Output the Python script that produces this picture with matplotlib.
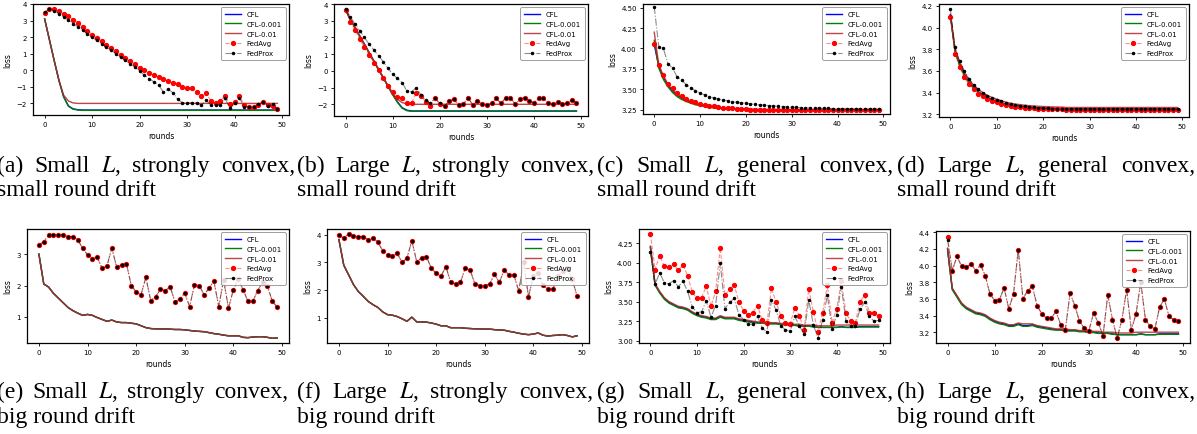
import matplotlib
matplotlib.use("Agg")
import matplotlib.pyplot as plt
from matplotlib.ticker import MultipleLocator

plt.rcParams['font.family'] = 'DejaVu Sans'
plt.rcParams['mathtext.fontset'] = 'stix'

# ------------------------------------------------------------
# loss curves, 50 rounds each
# ------------------------------------------------------------
rounds = list(range(50))

# --- (a) small L, strongly convex, small drift ---
cfl_a = [3.1, 1.85, 0.6, -0.6, -1.6, -2.15, -2.33, -2.38] + [-2.4] * 42
cfl001_a = [3.1, 1.85, 0.6, -0.6, -1.6, -2.17, -2.35, -2.4] + [-2.42] * 42
cfl01_a = [3.1, 1.85, 0.6, -0.6, -1.5, -1.85, -1.97] + [-2.0] * 43
fedavg_a = [3.45, 3.7, 3.7, 3.55, 3.4, 3.25, 3.05, 2.85, 2.6, 2.4,
            2.15, 1.95, 1.75, 1.55, 1.35, 1.15, 0.95, 0.75, 0.55, 0.35,
            0.15, 0.0, -0.15, -0.3, -0.4, -0.55, -0.65, -0.75, -0.85, -1.0,
            -1.05, -1.1, -1.3, -1.58, -1.38, -1.84, -1.98, -1.84, -1.54, -2.04,
            -1.9, -1.54, -2.1, -2.2, -2.2, -2.1, -1.9, -2.1, -2.18, -2.35]
fedprox_a = [3.5, 3.7, 3.6, 3.42, 3.22, 3.02, 2.82, 2.62, 2.42, 2.2,
             2.0, 1.8, 1.6, 1.4, 1.2, 1.0, 0.8, 0.6, 0.4, 0.2,
             -0.05, -0.3, -0.5, -0.7, -0.9, -1.3, -1.15, -1.35, -1.75, -1.95,
             -2.0, -1.95, -2.0, -2.1, -1.8, -2.1, -2.1, -2.1, -1.7, -2.3,
             -2.0, -1.65, -2.2, -2.2, -2.2, -2.05, -1.9, -2.15, -2.05, -2.35]

# --- (b) large L, strongly convex, small drift ---
cfl_b = [3.65, 3.1, 2.6, 2.1, 1.6, 1.1, 0.6, 0.1, -0.4, -0.9,
         -1.4, -1.85, -2.2, -2.35] + [-2.4] * 36
cfl001_b = [3.65, 3.08, 2.57, 2.07, 1.57, 1.07, 0.57, 0.07, -0.43, -0.93,
            -1.43, -1.88, -2.23, -2.38] + [-2.42] * 36
cfl01_b = [3.65, 3.1, 2.6, 2.1, 1.6, 1.1, 0.6, 0.1, -0.4, -0.88,
           -1.35, -1.7, -1.9, -1.97] + [-2.0] * 36
fedavg_b = [3.65, 2.95, 2.45, 1.9, 1.4, 0.95, 0.5, 0.05, -0.45, -0.9,
            -1.25, -1.55, -1.65, -1.9, -1.9, -1.35, -1.5, -1.85, -2.1, -1.6,
            -2.0, -2.1, -1.8, -1.7, -2.05, -2.0, -1.6, -2.05, -1.8, -2.0,
            -2.05, -1.95, -1.65, -1.95, -1.6, -1.6, -2.0, -1.7, -1.6, -1.8,
            -1.9, -1.65, -1.65, -1.95, -2.0, -1.85, -2.0, -1.95, -1.75, -1.9]
fedprox_b = [3.7, 3.25, 2.8, 2.4, 2.0, 1.6, 1.25, 0.9, 0.55, 0.15,
             -0.2, -0.45, -0.7, -1.2, -1.25, -1.0, -1.45, -1.75, -1.95, -1.6,
             -1.95, -2.12, -1.8, -1.7, -2.05, -2.0, -1.6, -2.05, -1.8, -2.0,
             -2.05, -1.95, -1.65, -1.95, -1.6, -1.6, -2.0, -1.7, -1.6, -1.8,
             -1.9, -1.65, -1.65, -1.95, -2.0, -1.85, -2.0, -1.95, -1.75, -1.9]

# --- (c) small L, general convex, small drift ---
cfl_c = [4.05, 3.78, 3.65, 3.55, 3.48, 3.43, 3.39, 3.36, 3.34, 3.32,
         3.305, 3.295, 3.285, 3.278, 3.272, 3.267, 3.263, 3.26, 3.258, 3.256,
         3.254, 3.253, 3.252, 3.251, 3.25, 3.25, 3.249, 3.249, 3.248, 3.248] + [3.247] * 20
cfl001_c = [4.1, 3.76, 3.62, 3.53, 3.46, 3.41, 3.375, 3.35, 3.33, 3.31,
            3.3, 3.29, 3.28, 3.273, 3.267, 3.263, 3.26, 3.257, 3.255, 3.253,
            3.252, 3.251, 3.25, 3.249, 3.248] + [3.246] * 25
cfl01_c = [4.2, 3.8, 3.66, 3.56, 3.49, 3.44, 3.4, 3.37, 3.345, 3.325,
           3.31, 3.298, 3.288, 3.28, 3.274, 3.269, 3.265, 3.262, 3.26, 3.258,
           3.256, 3.255, 3.254, 3.253, 3.252] + [3.25] * 25
fedavg_c = [4.06, 3.8, 3.67, 3.57, 3.51, 3.46, 3.42, 3.38, 3.36, 3.34,
            3.32, 3.31, 3.30, 3.29, 3.28, 3.275, 3.27, 3.265, 3.26, 3.257,
            3.254, 3.252, 3.25, 3.248, 3.247, 3.246, 3.245, 3.244, 3.243, 3.242] + [3.24] * 20
fedprox_c = [4.51, 4.02, 4.0, 3.81, 3.76, 3.65, 3.61, 3.555, 3.52, 3.48,
             3.455, 3.43, 3.41, 3.395, 3.38, 3.37, 3.36, 3.35, 3.34, 3.335,
             3.33, 3.32, 3.315, 3.31, 3.305, 3.30, 3.295, 3.29, 3.287, 3.284,
             3.28, 3.278, 3.276, 3.274, 3.272, 3.27, 3.268, 3.266, 3.265, 3.264,
             3.263, 3.262, 3.261, 3.26, 3.259, 3.258, 3.258, 3.257, 3.257, 3.256]

# --- (d) large L, general convex, small drift ---
cfl_d = [4.12, 3.79, 3.66, 3.57, 3.5, 3.45, 3.41, 3.38, 3.355, 3.335,
         3.32, 3.305, 3.295, 3.287, 3.28, 3.275, 3.27, 3.266, 3.263, 3.26,
         3.258, 3.256, 3.255, 3.254, 3.253] + [3.252] * 25
cfl001_d = [4.11, 3.78, 3.65, 3.56, 3.49, 3.44, 3.405, 3.375, 3.35, 3.33,
            3.315, 3.3, 3.29, 3.283, 3.277, 3.272, 3.267, 3.263, 3.26, 3.258,
            3.256, 3.254, 3.253, 3.252, 3.251] + [3.25] * 25
cfl01_d = [4.12, 3.8, 3.68, 3.59, 3.52, 3.47, 3.43, 3.40, 3.375, 3.355,
           3.34, 3.325, 3.312, 3.302, 3.295, 3.289, 3.284, 3.28, 3.277, 3.274,
           3.272, 3.27, 3.268, 3.267, 3.266] + [3.263] * 25
fedavg_d = [4.10, 3.76, 3.635, 3.54, 3.475, 3.43, 3.39, 3.365, 3.345, 3.325,
            3.31, 3.295, 3.285, 3.277, 3.271, 3.266, 3.262, 3.258, 3.255, 3.252,
            3.25, 3.248, 3.247, 3.246, 3.245] + [3.24] * 25
fedprox_d = [4.17, 3.82, 3.69, 3.6, 3.53, 3.47, 3.43, 3.40, 3.37, 3.35,
             3.335, 3.32, 3.305, 3.295, 3.288, 3.28, 3.275, 3.27, 3.265, 3.26,
             3.257, 3.255, 3.253, 3.251, 3.25] + [3.247] * 25

# --- (e) small L, strongly convex, big drift ---
cfl_e = [3.0, 2.05, 1.95, 1.75, 1.6, 1.45, 1.3, 1.2, 1.12, 1.05,
         1.08, 1.05, 0.98, 0.92, 0.86, 0.9, 0.84, 0.82, 0.82, 0.8,
         0.78, 0.72, 0.66, 0.63, 0.62, 0.62, 0.62, 0.61, 0.6, 0.6,
         0.59, 0.57, 0.55, 0.54, 0.53, 0.5, 0.47, 0.45, 0.42, 0.4,
         0.4, 0.4, 0.35, 0.34, 0.36, 0.37, 0.37, 0.35, 0.32, 0.33]
cfl001_e = cfl_e
cfl01_e = cfl_e
fedavg_e = [3.28, 3.4, 3.6, 3.62, 3.62, 3.62, 3.56, 3.56, 3.46, 3.18,
            2.98, 2.86, 2.9, 2.55, 2.62, 3.2, 2.58, 2.66, 2.7, 2.0,
            1.8, 1.7, 2.26, 1.52, 1.64, 1.88, 1.84, 1.96, 1.48, 1.58,
            1.76, 1.33, 2.02, 2.0, 1.7, 1.92, 2.14, 1.33, 2.18, 1.28,
            1.86, 2.2, 1.87, 1.5, 1.5, 1.84, 2.1, 2.0, 1.5, 1.32]
fedprox_e = fedavg_e

# --- (f) large L, strongly convex, big drift ---
cfl_f = [3.82, 2.9, 2.55, 2.2, 1.95, 1.78, 1.6, 1.48, 1.38, 1.22,
         1.12, 1.1, 1.05, 0.97, 0.88, 1.03, 0.86, 0.86, 0.85, 0.82,
         0.78, 0.72, 0.72, 0.65, 0.65, 0.65, 0.63, 0.62, 0.61, 0.61,
         0.6, 0.6, 0.58, 0.57, 0.56, 0.52, 0.49, 0.45, 0.42, 0.4,
         0.42, 0.46, 0.38, 0.35, 0.37, 0.38, 0.4, 0.37, 0.32, 0.36]
cfl001_f = cfl_f
cfl01_f = cfl_f
fedavg_f = [3.97, 3.88, 4.02, 3.95, 3.93, 3.93, 3.82, 3.87, 3.73, 3.42,
            3.27, 3.22, 3.32, 3.0, 3.15, 3.78, 3.03, 3.16, 3.2, 2.8,
            2.6, 2.5, 2.85, 2.28, 2.22, 2.28, 2.8, 2.72, 2.22, 2.16,
            2.16, 2.22, 2.57, 2.28, 2.72, 2.55, 2.55, 1.97, 3.0, 1.77,
            2.5, 2.6, 2.17, 2.03, 2.03, 2.5, 2.7, 2.8, 2.4, 1.78]
fedprox_f = fedavg_f

# --- (g) small L, general convex, big drift ---
cfl_g = [4.2, 3.72, 3.62, 3.54, 3.49, 3.46, 3.43, 3.42, 3.4, 3.36,
         3.33, 3.31, 3.3, 3.28, 3.28, 3.31, 3.29, 3.29, 3.29, 3.27,
         3.26, 3.25, 3.24, 3.23, 3.23, 3.22, 3.22, 3.22, 3.21, 3.21,
         3.2, 3.2, 3.19, 3.19, 3.19, 3.18, 3.17, 3.17, 3.17, 3.17,
         3.17, 3.18, 3.17, 3.17, 3.17, 3.18, 3.18, 3.18, 3.18, 3.18]
cfl001_g = [4.19, 3.71, 3.61, 3.53, 3.48, 3.45, 3.42, 3.41, 3.39, 3.35,
            3.32, 3.3, 3.29, 3.27, 3.27, 3.3, 3.28, 3.28, 3.28, 3.26,
            3.25, 3.24, 3.23, 3.225, 3.225, 3.215, 3.215, 3.215, 3.205, 3.205,
            3.195, 3.195, 3.185, 3.185, 3.185, 3.175, 3.17, 3.17, 3.17, 3.17,
            3.17, 3.175, 3.17, 3.17, 3.17, 3.175, 3.175, 3.175, 3.175, 3.175]
cfl01_g = [4.21, 3.73, 3.63, 3.55, 3.5, 3.47, 3.44, 3.43, 3.41, 3.37,
           3.34, 3.32, 3.31, 3.29, 3.29, 3.32, 3.3, 3.3, 3.3, 3.28,
           3.27, 3.26, 3.25, 3.24, 3.24, 3.24, 3.23, 3.23, 3.22, 3.22,
           3.22, 3.21, 3.21, 3.2, 3.2, 3.2, 3.19, 3.19, 3.19, 3.19,
           3.2, 3.2, 3.2, 3.2, 3.2, 3.2, 3.2, 3.2, 3.2, 3.2]
fedavg_g = [4.37, 3.91, 4.09, 3.95, 3.94, 3.98, 3.9, 3.97, 3.83, 3.62,
            3.54, 3.55, 3.7, 3.44, 3.63, 4.19, 3.58, 3.66, 3.71, 3.5,
            3.38, 3.33, 3.36, 3.45, 3.26, 3.22, 3.67, 3.49, 3.32, 3.23,
            3.21, 3.42, 3.32, 3.14, 3.66, 3.37, 3.11, 3.36, 3.71, 3.23,
            3.41, 3.76, 3.35, 3.25, 3.23, 3.5, 3.58, 3.36, 3.35, 3.32]
fedprox_g = [4.13, 3.72, 3.87, 3.74, 3.73, 3.77, 3.69, 3.76, 3.63, 3.43,
             3.36, 3.37, 3.51, 3.3, 3.45, 3.99, 3.41, 3.49, 3.54, 3.33,
             3.27, 3.21, 3.21, 3.31, 3.16, 3.11, 3.52, 3.39, 3.19, 3.14,
             3.12, 3.31, 3.19, 3.08, 3.52, 3.2, 3.03, 3.27, 3.58, 3.15,
             3.33, 3.69, 3.25, 3.19, 3.19, 3.4, 3.49, 3.31, 3.25, 3.26]

# --- (h) large L, general convex, big drift ---
cfl_h = [4.2, 3.72, 3.63, 3.54, 3.49, 3.46, 3.43, 3.42, 3.4, 3.36,
         3.33, 3.31, 3.3, 3.28, 3.28, 3.3, 3.28, 3.28, 3.29, 3.27,
         3.26, 3.25, 3.24, 3.23, 3.23, 3.22, 3.22, 3.22, 3.21, 3.21,
         3.2, 3.2, 3.19, 3.19, 3.19, 3.18, 3.17, 3.17, 3.17, 3.17,
         3.17, 3.18, 3.17, 3.17, 3.17, 3.18, 3.18, 3.18, 3.18, 3.18]
cfl001_h = [4.19, 3.71, 3.62, 3.53, 3.48, 3.45, 3.42, 3.41, 3.39, 3.35,
            3.32, 3.3, 3.29, 3.27, 3.27, 3.29, 3.27, 3.27, 3.28, 3.26,
            3.25, 3.24, 3.23, 3.225, 3.225, 3.215, 3.215, 3.215, 3.205, 3.205,
            3.195, 3.195, 3.185, 3.185, 3.185, 3.175, 3.17, 3.17, 3.17, 3.17,
            3.17, 3.175, 3.17, 3.17, 3.17, 3.175, 3.175, 3.175, 3.175, 3.175]
cfl01_h = [4.21, 3.73, 3.64, 3.55, 3.5, 3.47, 3.44, 3.43, 3.41, 3.37,
           3.34, 3.32, 3.31, 3.29, 3.29, 3.31, 3.3, 3.3, 3.3, 3.28,
           3.27, 3.26, 3.25, 3.24, 3.24, 3.24, 3.23, 3.23, 3.22, 3.22,
           3.22, 3.21, 3.21, 3.2, 3.2, 3.2, 3.19, 3.19, 3.19, 3.19,
           3.2, 3.2, 3.2, 3.2, 3.2, 3.2, 3.2, 3.2, 3.2, 3.2]
fedavg_h = [4.34, 3.94, 4.11, 3.99, 3.98, 4.02, 3.94, 4.01, 3.88, 3.66,
            3.58, 3.59, 3.73, 3.48, 3.66, 4.19, 3.6, 3.7, 3.75, 3.52,
            3.42, 3.37, 3.37, 3.45, 3.29, 3.23, 3.67, 3.52, 3.33, 3.25,
            3.22, 3.43, 3.31, 3.16, 3.65, 3.35, 3.13, 3.35, 3.71, 3.23,
            3.42, 3.8, 3.35, 3.27, 3.24, 3.5, 3.6, 3.39, 3.35, 3.33]
fedprox_h = [4.31] + fedavg_h[1:]

captions = [
    ("(a) Small $L$, strongly convex,", "small round drift"),
    ("(b) Large $L$, strongly convex,", "small round drift"),
    ("(c) Small $L$, general convex,", "small round drift"),
    ("(d) Large $L$, general convex,", "small round drift"),
    ("(e) Small $L$, strongly convex,", "big round drift"),
    ("(f) Large $L$, strongly convex,", "big round drift"),
    ("(g) Small $L$, general convex,", "big round drift"),
    ("(h) Large $L$, general convex,", "big round drift"),
]

series = [
    (cfl_a, cfl001_a, cfl01_a, fedavg_a, fedprox_a),
    (cfl_b, cfl001_b, cfl01_b, fedavg_b, fedprox_b),
    (cfl_c, cfl001_c, cfl01_c, fedavg_c, fedprox_c),
    (cfl_d, cfl001_d, cfl01_d, fedavg_d, fedprox_d),
    (cfl_e, cfl001_e, cfl01_e, fedavg_e, fedprox_e),
    (cfl_f, cfl001_f, cfl01_f, fedavg_f, fedprox_f),
    (cfl_g, cfl001_g, cfl01_g, fedavg_g, fedprox_g),
    (cfl_h, cfl001_h, cfl01_h, fedavg_h, fedprox_h),
]

# --- layout (pixels of the 1197x435 picture) ---
W, H = 1197, 435
boxes = [(33, 5, 289, 116), (334, 5, 588, 117), (643, 5, 890, 115), (939, 5, 1189, 118),
         (27, 230, 289, 344), (327, 230, 589, 344), (639, 230, 890, 344), (936, 232, 1190, 344)]
ylims = [(-2.7, 4.0), (-2.7, 4.0), (3.197, 4.545), (3.175, 4.218),
         (0.17, 3.8), (0.1, 4.2), (2.97, 4.43), (3.07, 4.415)]
ysteps = [1, 1, 0.25, 0.2, 1, 1, 0.25, 0.2]
# first caption line is justified between these x positions
cap_x = [(-3, 295), (297, 594), (597, 893), (897, 1195),
         (-3, 288), (297, 593), (597, 893), (897, 1195)]
cap_y = [(172, 196), (172, 196), (172, 196), (172, 196),
         (398, 423), (398, 423), (398, 423), (398, 423)]

fig = plt.figure(figsize=(W / 100, H / 100), dpi=100)

for i, (box, data) in enumerate(zip(boxes, series)):
    l, t, r, b = box
    ax = fig.add_axes([l / W, 1 - b / H, (r - l) / W, (b - t) / H])
    cfl, cfl001, cfl01, fedavg, fedprox = data
    ax.plot(rounds, cfl, color="blue", lw=1.0, label="CFL")
    ax.plot(rounds, cfl001, color="green", lw=1.0, label="CFL-0.001")
    ax.plot(rounds, cfl01, color=(0.7, 0.15, 0.15, 0.85), lw=1.0, label="CFL-0.01")
    ax.plot(rounds, fedavg, color=(1, 0, 0, 0.45), ls="--", lw=0.8, marker="o", ms=2.8,
            mfc="red", mec="red", label="FedAvg")
    ax.plot(rounds, fedprox, color=(0, 0, 0, 0.45), ls="-.", lw=0.8, marker="o", ms=1.5,
            mfc="black", mec="black", label="FedProx")
    ax.set_ylim(*ylims[i])
    ax.set_xlim(-2.45, 51.45)
    ax.xaxis.set_major_locator(MultipleLocator(10))
    ax.yaxis.set_major_locator(MultipleLocator(ysteps[i]))
    ax.tick_params(labelsize=5, length=2.5, width=0.6, pad=2)
    for sp in ax.spines.values():
        sp.set_linewidth(0.9)
    ax.set_xlabel("rounds", fontsize=5.5, labelpad=3)
    ax.set_ylabel("loss", fontsize=5.5, labelpad=3)
    leg = ax.legend(loc="upper right", fontsize=5, handlelength=2.4, labelspacing=0.55,
                    borderpad=0.5, framealpha=0.85, fancybox=True)
    leg.get_frame().set_edgecolor("0.55")
    leg.get_frame().set_linewidth(0.7)

# --- sub captions (serif, first line justified like the paper) ---
renderer = fig.canvas.get_renderer()
cap_font = dict(family="Liberation Serif", size=17, va="baseline", ha="left")
for (line1, line2), (x0, x1), (y1, y2) in zip(captions, cap_x, cap_y):
    words = line1.split(" ")
    texts = [fig.text(0, 0, w, **cap_font) for w in words]
    widths = [tx.get_window_extent(renderer).width for tx in texts]
    gap = (x1 - x0 - sum(widths)) / (len(words) - 1)
    x = x0
    for tx, w in zip(texts, widths):
        tx.set_position((x / W, 1 - y1 / H))
        x += w + gap
    fig.text(x0 / W, 1 - y2 / H, line2, **cap_font)

fig.savefig("out.png", dpi=100)
plt.close(fig)
